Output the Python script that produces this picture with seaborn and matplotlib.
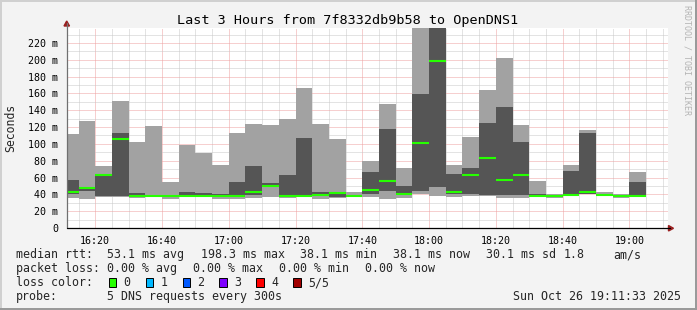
import matplotlib
matplotlib.use("Agg")
import matplotlib.pyplot as plt
import seaborn as sns
from matplotlib.patches import Rectangle, Polygon
from matplotlib.lines import Line2D
from matplotlib.ticker import MultipleLocator

# ---------------- data ----------------
# start of each 5-minute slot, minutes after 16:00
slot_start = [10, 15, 20, 25, 30, 35, 40, 45, 50, 55,
              60, 65, 70, 75, 80, 85, 90, 95, 100, 105,
              110, 115, 120, 125, 130, 135, 140, 145, 150, 155,
              160, 165, 170, 175, 180]
# sorted ping results (ms) of the 5 DNS requests in each slot
ping_1 = [36, 34.5, 36.5, 37, 36, 37, 34.5, 36.5, 36.5, 35,
          35, 36, 37, 36, 37, 35, 35.5, 37, 37, 34.5,
          36, 40, 38.5, 37, 38.5, 38.5, 36, 36, 37.5, 36,
          38, 40, 38.5, 36, 37.5]
ping_2 = [40, 44, 38.5, 38.5, 37.5, 37.5, 37, 37.5, 37.5, 37,
          37, 39, 49.5, 37.5, 37.5, 37.5, 36.5, 37.5, 41, 44,
          39, 43.5, 48.5, 40, 40, 39.5, 39.5, 39.5, 38, 37,
          38.5, 41, 39, 37, 38]
ping_median = [43, 47.9, 63, 106, 38.1, 38.1, 38.1, 38.1, 38.1, 38.1,
               38.1, 43, 50.5, 38.1, 38.1, 39.6, 42, 38.1, 45.5, 56,
               41, 101.5, 198.3, 43, 63.5, 83.5, 57.5, 63.5, 38.1, 38.1,
               39.6, 43, 39.6, 38.1, 38.1]
ping_4 = [57, 49, 64, 113, 41.5, 39.5, 39.5, 42.5, 42, 40.5,
          55, 74, 53, 63, 107, 42.5, 43, 39.5, 66.5, 117.5,
          50, 159.5, 250, 64, 71.5, 125, 144, 102, 41, 39.5,
          68, 113, 40.5, 39.5, 54.5]
ping_5 = [112, 127, 74, 151, 102, 121, 55, 99, 89, 75,
          113, 124, 122.5, 130, 166.5, 124, 106, 42.5, 80, 147.5,
          71, 260, 300, 75, 108.5, 164, 202, 122.5, 56, 41,
          75, 116.5, 42.5, 41, 66.5]

x_tick_minutes = [20, 40, 60, 80, 100, 120, 140, 160, 180]
x_tick_labels = ["16:20", "16:40", "17:00", "17:20", "17:40",
                 "18:00", "18:20", "18:40", "19:00"]
y_tick_values = [0, 20, 40, 60, 80, 100, 120, 140, 160, 180, 200, 220]
y_tick_labels = ["0", "20 m", "40 m", "60 m", "80 m", "100 m", "120 m",
                 "140 m", "160 m", "180 m", "200 m", "220 m"]

loss_labels = ["0", "1", "2", "3", "4", "5/5"]
loss_colors = ["#26ff00", "#00b8ff", "#0059ff", "#7e00ff", "#ff0000", "#a10000"]

title = "Last 3 Hours from 7f8332db9b58 to OpenDNS1"
rtt_items = ["median rtt:", "53.1 ms avg", "198.3 ms max", "38.1 ms min",
             "38.1 ms now", "30.1 ms sd", "1.8", "am/s"]
loss_items = ["packet loss:", "0.00 % avg", "0.00 % max", "0.00 % min", "0.00 % now"]
probe_items = ["probe:", "5 DNS requests every 300s"]
stamp = "Sun Oct 26 19:11:33 2025"

# ---------------- style ----------------
sns.set_theme(style="white")
plt.rcParams["font.family"] = ["DejaVu Sans Mono", "DejaVu Sans"]

W, H = 697, 310
fig = plt.figure(figsize=(W / 100, H / 100), dpi=100, facecolor="#f3f3f3")


def fx(px):
    return px / W


def fy(py):
    return 1 - py / H


L, R, T, B = 67, 668, 28, 228
ax = fig.add_axes([fx(L), fy(B), fx(R - L), (B - T) / H])
ax.set_facecolor("white")
ax.set_xlim(11.55, 191.55)
ax.set_ylim(0, (B - T) * 20 / 16.82)

light = "#a2a2a2"
dark = "#555555"
green = "#26ff00"

outer_h = [b - a for a, b in zip(ping_1, ping_5)]
inner_h = [b - a for a, b in zip(ping_2, ping_4)]
ax.bar(slot_start, outer_h, bottom=ping_1, width=5, align="edge",
       color=light, linewidth=0, antialiased=False, zorder=2)
ax.bar(slot_start, inner_h, bottom=ping_2, width=5, align="edge",
       color=dark, linewidth=0, antialiased=False, zorder=3)
ax.hlines(ping_median, slot_start, [s + 5 for s in slot_start],
          colors=green, linewidth=1.5, zorder=4)

# grid
ax.set_xticks(x_tick_minutes, x_tick_labels)
ax.xaxis.set_minor_locator(MultipleLocator(5))
ax.set_yticks(y_tick_values, y_tick_labels)
ax.yaxis.set_minor_locator(MultipleLocator(10))
ax.set_axisbelow(True)
ax.grid(which="minor", color="#c8c8c8", linestyle=(0, (1, 1)), linewidth=0.72, zorder=0)
ax.grid(which="major", color="#eea0a0", linestyle=(0, (1, 1)), linewidth=0.72, zorder=0)

ax.tick_params(axis="x", which="major", length=3, width=0.72, color="#e08080",
               labelsize=7.2, pad=2.5, labelcolor="black")
ax.tick_params(axis="x", which="minor", length=2, width=0.72, color="#b8b8b8")
ax.tick_params(axis="y", which="major", length=3, width=0.72, color="#808080",
               labelsize=7.2, pad=3.5, labelcolor="black")
ax.tick_params(axis="y", which="minor", length=2, width=0.72, color="#b8b8b8")
for s in ax.spines.values():
    s.set_visible(False)

# axes with arrows (pixel geometry)
fig.add_artist(Line2D([fx(L - 0.3), fx(L - 0.3)], [fy(B), fy(23)], color="#707070", lw=0.9))
fig.add_artist(Line2D([fx(L - 0.3), fx(670)], [fy(B + 0.3), fy(B + 0.3)], color="black", lw=0.9))
fig.add_artist(Polygon([[fx(L - 0.3), fy(21)], [fx(L - 3), fy(26)], [fx(L + 2.5), fy(26)]],
                       closed=True, color="#9a2020", transform=fig.transFigure))
fig.add_artist(Polygon([[fx(673.5), fy(B + 0.3)], [fx(668.5), fy(B - 2.5)], [fx(668.5), fy(B + 3)]],
                       closed=True, color="#9a2020", transform=fig.transFigure))

# frame
fig.add_artist(Rectangle((0, fy(2)), 1, 2 / H, transform=fig.transFigure, color="#d0d0d0", lw=0))
fig.add_artist(Rectangle((0, 0), fx(2), 1, transform=fig.transFigure, color="#d0d0d0", lw=0))
fig.add_artist(Rectangle((0, 0), 1, 2.5 / H, transform=fig.transFigure, color="#9a9a9a", lw=0))
fig.add_artist(Rectangle((fx(695), 0), fx(2), 1, transform=fig.transFigure, color="#9a9a9a", lw=0))

# texts
fig.text(fx(347.5), fy(24), title, ha="center", va="baseline", fontsize=9.7, color="black")
fig.text(fx(11), fy(128), "Seconds", rotation=90, ha="center", va="center", fontsize=8.3)
fig.text(fx(687), fy(60), "RRDTOOL / TOBI OETIKER", rotation=270, ha="center", va="center",
         fontsize=6, color="#b4b4b4")

lf = 8.4
for txt, xp in zip(rtt_items, [16, 107.3, 200.7, 300, 392.7, 486.3, 563.7, 613.7]):
    fig.text(fx(xp), fy(258.3), txt, ha="left", va="baseline", fontsize=lf)
for txt, xp in zip(loss_items, [16, 107.3, 193.3, 279.3, 365]):
    fig.text(fx(xp), fy(272.3), txt, ha="left", va="baseline", fontsize=lf)
fig.text(fx(16), fy(286.3), "loss color:", ha="left", va="baseline", fontsize=lf)
box_x = [108.7, 145.7, 182.7, 219.3, 256.3, 293.3]
lab_x = [123.3, 160.7, 197.3, 234.3, 271, 308]
for c, lab, bx, lx in zip(loss_colors, loss_labels, box_x, lab_x):
    fig.add_artist(Rectangle((fx(bx), fy(286.5)), fx(7.3), 8.2 / H, transform=fig.transFigure,
                             facecolor=c, edgecolor="black", lw=0.7))
    fig.text(fx(lx), fy(286.3), lab, ha="left", va="baseline", fontsize=lf)
for txt, xp in zip(probe_items, [16, 107.3]):
    fig.text(fx(xp), fy(300.3), txt, ha="left", va="baseline", fontsize=lf)
fig.text(fx(681), fy(300.3), stamp, ha="right", va="baseline", fontsize=lf)

fig.savefig("out.png", dpi=100, facecolor=fig.get_facecolor())
